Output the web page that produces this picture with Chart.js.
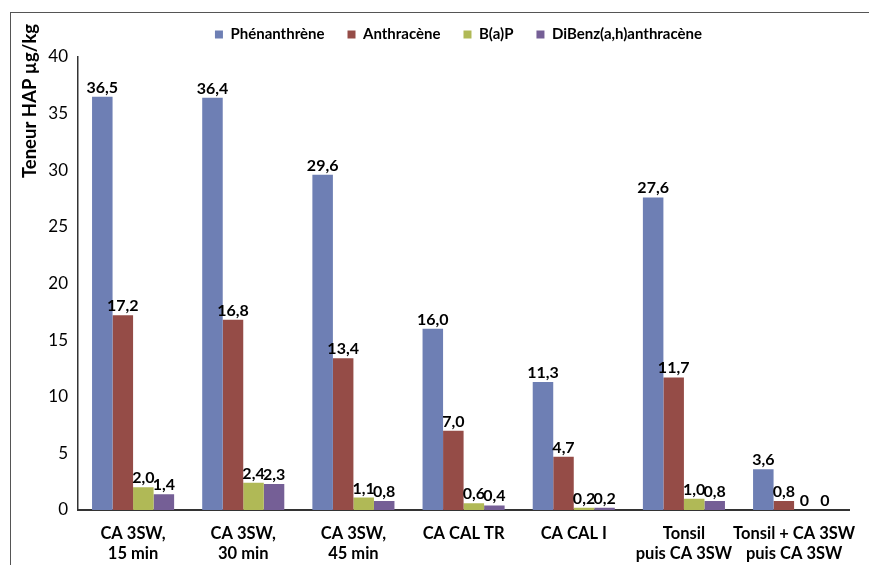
<!DOCTYPE html>
<html>
<head>
<meta charset="utf-8">
<script src="https://cdn.jsdelivr.net/npm/chart.js@4"></script>
<style>
  html, body { margin: 0; padding: 0; background: #fff; }
  #wrap { position: relative; width: 869px; height: 565px; }
  #frame {
    position: absolute; left: 10px; top: 12px; right: -5px; bottom: -5px;
    border-left: 1px solid #555; border-top: 1px solid #555;
  }
  canvas { position: absolute; left: 0; top: 0; }
</style>
</head>
<body>
<div id="wrap">
  <div id="frame"></div>
  <canvas id="chart" width="869" height="565"></canvas>
</div>
<script>
'use strict';

// ── Data ──────────────────────────────────────────────────
const CATEGORIES = [
  ['CA 3SW,', '15 min'],
  ['CA 3SW,', '30 min'],
  ['CA 3SW,', '45 min'],
  'CA CAL TR',
  'CA CAL I',
  ['Tonsil', 'puis CA 3SW'],
  ['Tonsil + CA 3SW', 'puis CA 3SW']
];
const PHENANTHRENE = [36.5, 36.4, 29.6, 16.0, 11.3, 27.6, 3.6];
const ANTHRACENE   = [17.2, 16.8, 13.4, 7.0, 4.7, 11.7, 0.8];
const BAP          = [2.0, 2.4, 1.1, 0.6, 0.2, 1.0, 0];
const DIBENZ       = [1.4, 2.3, 0.8, 0.4, 0.2, 0.8, 0];
const Y_TICKS      = [0, 5, 10, 15, 20, 25, 30, 35, 40];

// ── Style ─────────────────────────────────────────────────
const FONT_FAMILY = "Lato, 'Open Sans', sans-serif";
const COLORS = ['#6e7fb4', '#954c47', '#b0b956', '#755f96'];
const AXIS_COLOR = '#333';

function fmtVal(v) {
  return v === 0 ? '0' : v.toFixed(1).replace('.', ',');
}

// ── Plugin: value labels above bars ──────────────────────
const valueLabels = {
  id: 'valueLabels',
  afterDatasetsDraw(chart) {
    const ctx = chart.ctx;
    ctx.save();
    ctx.font = `bold 16px ${FONT_FAMILY}`;
    ctx.fillStyle = '#000';
    ctx.textAlign = 'center';
    ctx.textBaseline = 'alphabetic';
    chart.data.datasets.forEach((ds, i) => {
      const meta = chart.getDatasetMeta(i);
      meta.data.forEach((bar, j) => {
        ctx.fillText(fmtVal(ds.data[j]), bar.x, bar.y - 4);
      });
    });
    ctx.restore();
  }
};

// ── Plugin: y axis title + legend shift ──────────────────
const yTitle = {
  id: 'yTitle',
  afterLayout(chart) {
    // legend in the reference sits right of centre and closer to the top
    chart.legend.left += 30;
    chart.legend.right += 30;
    chart.legend.top -= 5;
    chart.legend.bottom -= 5;
  },
  afterDraw(chart) {
    const ctx = chart.ctx;
    ctx.save();
    ctx.translate(30, 101);
    ctx.rotate(-Math.PI / 2);
    ctx.font = `bold 18.5px ${FONT_FAMILY}`;
    ctx.fillStyle = '#000';
    ctx.textAlign = 'center';
    ctx.textBaseline = 'middle';
    ctx.fillText('Teneur HAP µg/kg', 0, 0);
    ctx.restore();
  }
};

const mkSet = (label, data, color) => ({
  label, data,
  backgroundColor: color,
  borderWidth: 0,
  barPercentage: 1,
  categoryPercentage: 0.745
});

new Chart(document.getElementById('chart'), {
  type: 'bar',
  data: {
    labels: CATEGORIES,
    datasets: [
      mkSet('Phénanthrène', PHENANTHRENE, COLORS[0]),
      mkSet('Anthracène', ANTHRACENE, COLORS[1]),
      mkSet('B(a)P', BAP, COLORS[2]),
      mkSet('DiBenz(a,h)anthracène', DIBENZ, COLORS[3])
    ]
  },
  options: {
    responsive: false,
    animation: false,
    layout: { padding: { top: 9, left: 0, right: 12, bottom: 0 } },
    plugins: {
      legend: {
        position: 'top',
        labels: {
          boxWidth: 8,
          boxHeight: 8,
          padding: 23,
          color: '#000',
          font: { family: FONT_FAMILY, size: 15, weight: 'bold' }
        }
      },
      tooltip: { enabled: false }
    },
    scales: {
      x: {
        afterFit: s => { s.height = 55; },
        grid: { display: false, drawTicks: false },
        border: { color: AXIS_COLOR, width: 2 },
        ticks: {
          padding: 13,
          color: '#000',
          maxRotation: 0,
          autoSkip: false,
          font: { family: FONT_FAMILY, size: 16.5, weight: 'bold', lineHeight: 1.25 }
        }
      },
      y: {
        min: 0,
        max: 40,
        afterFit: s => { s.width = 78; },
        afterBuildTicks: s => { s.ticks = Y_TICKS.map(v => ({ value: v })); },
        grid: { display: false, drawTicks: false },
        border: { color: AXIS_COLOR, width: 1.5 },
        ticks: {
          padding: 10,
          color: '#000',
          font: { family: FONT_FAMILY, size: 17 }
        }
      }
    }
  },
  plugins: [valueLabels, yTitle]
});
</script>
</body>
</html>
